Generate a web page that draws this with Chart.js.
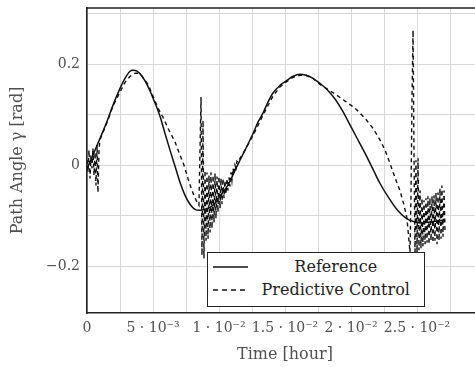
<!DOCTYPE html>
<html lang="en">
<head>
  <meta charset="UTF-8" />
  <title>Path angle</title>
  <script src="https://cdn.jsdelivr.net/npm/chart.js"></script>
  <style>
    body {
      margin: 0;
      width: 475px;
      height: 367px;
      overflow: hidden;
      background: #fff;
    }
    #wrap {
      position: relative;
      width: 483px;
      height: 367px;
    }
    #legend {
      position: absolute;
      left: 207px;
      top: 252px;
      width: 218px;
      height: 55px;
      box-sizing: border-box;
      border: 1.5px solid #222;
      background: #fff;
      padding-top: 2px;
      font-family: 'DejaVu Serif', serif;
      font-size: 16px;
      color: #222;
    }
    .row {
      display: flex;
      align-items: center;
      height: 23px;
    }
    .row svg {
      margin-left: 4.5px;
      flex: none;
    }
    .row span {
      flex: 1;
      text-align: center;
    }
  </style>
</head>
<body>
  <div id="wrap">
    <canvas id="pathChart" width="483" height="367"></canvas>
    <div id="legend">
      <div class="row">
        <svg width="35" height="4"><line x1="0" y1="2" x2="35" y2="2" stroke="#111" stroke-width="1.6" /></svg>
        <span>Reference</span>
      </div>
      <div class="row">
        <svg width="35" height="4"><line x1="0" y1="2" x2="35" y2="2" stroke="#111" stroke-width="1.6" stroke-dasharray="5 4" /></svg>
        <span>Predictive Control</span>
      </div>
    </div>
  </div>

  <script>
    // reference trajectory (time in hours, path angle in rad)
    const refTime = [0, 0.00045, 0.00098, 0.00152, 0.00197, 0.0025, 0.00288, 0.00326, 0.00348, 0.00379,
      0.00417, 0.00462, 0.005, 0.00553, 0.00591, 0.00629, 0.00667, 0.00705, 0.00742, 0.0078,
      0.00818, 0.00856, 0.00894, 0.00932, 0.0097, 0.01008, 0.01045, 0.01083, 0.01121, 0.01159,
      0.01197, 0.01258, 0.01295, 0.01333, 0.01371, 0.01409, 0.01462, 0.01515, 0.01561, 0.01614,
      0.01659, 0.01712, 0.01765, 0.01818, 0.01879, 0.01939, 0.01992, 0.02045, 0.02106, 0.02167,
      0.0222, 0.02295, 0.02356, 0.02424, 0.02485, 0.02538, 0.02598, 0.02652, 0.02712];
    const refGamma = [-0.006, 0.020, 0.053, 0.087, 0.119, 0.152, 0.172, 0.186, 0.188, 0.186,
      0.176, 0.156, 0.133, 0.097, 0.063, 0.030, -0.002, -0.034, -0.059, -0.077,
      -0.087, -0.089, -0.087, -0.083, -0.075, -0.061, -0.048, -0.032, -0.010, 0.010,
      0.030, 0.063, 0.085, 0.103, 0.125, 0.143, 0.158, 0.168, 0.176, 0.180,
      0.178, 0.172, 0.162, 0.150, 0.131, 0.106, 0.080, 0.054, 0.024, -0.008,
      -0.036, -0.068, -0.090, -0.106, -0.112, -0.114, -0.112, -0.110, -0.108];

    // predictive control response
    const mpcTime = [0, 0.00008, 0.00015, 0.00023, 0.0003, 0.00038, 0.00045, 0.00053, 0.00061, 0.00068,
      0.00076, 0.00083, 0.00091, 0.00098, 0.00152, 0.00197, 0.0025, 0.00288, 0.00326, 0.00364,
      0.00386, 0.00417, 0.00462, 0.005, 0.00538, 0.00576, 0.00614, 0.00667, 0.00705, 0.00735,
      0.00765, 0.00795, 0.00826, 0.00848, 0.00856, 0.00864, 0.00871, 0.00879, 0.00886, 0.00894,
      0.00902, 0.00909, 0.00917, 0.00924, 0.00932, 0.00939, 0.00947, 0.00955, 0.00962, 0.0097,
      0.00977, 0.00985, 0.00992, 0.01, 0.01008, 0.01015, 0.01023, 0.0103, 0.01038, 0.01045,
      0.01053, 0.01061, 0.01068, 0.01076, 0.01083, 0.01091, 0.01098, 0.01106, 0.01114, 0.01121,
      0.01129, 0.01136, 0.01144, 0.01159, 0.01197, 0.01258, 0.01333, 0.01409, 0.01462, 0.01515,
      0.01561, 0.01614, 0.01659, 0.01712, 0.01765, 0.01818, 0.01879, 0.01955, 0.0203, 0.02106,
      0.02167, 0.0222, 0.02258, 0.02295, 0.02333, 0.02371, 0.02402, 0.02424, 0.02439, 0.02447,
      0.02455, 0.02462, 0.0247, 0.02477, 0.02485, 0.02492, 0.025, 0.02508, 0.02515, 0.02523,
      0.0253, 0.02538, 0.02545, 0.02553, 0.02561, 0.02568, 0.02576, 0.02583, 0.02591, 0.02598,
      0.02606, 0.02614, 0.02621, 0.02629, 0.02636, 0.02644, 0.02652, 0.02659, 0.02667, 0.02674,
      0.02682, 0.02689, 0.02697, 0.02705, 0.02712];
    const mpcGamma = [0.010, -0.014, 0.030, -0.026, 0.020, -0.006, 0.034, -0.020, 0.026, -0.040,
      0.040, -0.054, 0.030, 0.050, 0.085, 0.117, 0.145, 0.164, 0.176, 0.182,
      0.182, 0.176, 0.160, 0.137, 0.113, 0.095, 0.073, 0.046, 0.020, 0.000,
      -0.026, -0.050, -0.069, -0.079, 0.030, 0.135, -0.178, 0.089, -0.184, -0.010,
      -0.149, -0.014, -0.145, -0.020, -0.133, -0.014, -0.125, -0.020, -0.113, -0.016,
      -0.105, -0.022, -0.093, -0.022, -0.085, -0.026, -0.077, -0.026, -0.065, -0.030,
      -0.057, -0.026, -0.050, -0.024, -0.042, -0.014, -0.030, -0.006, -0.018, 0.000,
      -0.006, 0.008, 0.006, 0.014, 0.030, 0.059, 0.099, 0.137, 0.155, 0.166,
      0.174, 0.178, 0.178, 0.172, 0.160, 0.151, 0.141, 0.127, 0.113, 0.093,
      0.073, 0.050, 0.030, 0.004, -0.024, -0.050, -0.079, -0.105, -0.149, -0.172,
      -0.050, 0.129, 0.267, 0.030, -0.178, 0.010, -0.172, 0.014, -0.168, -0.050,
      -0.164, -0.065, -0.160, -0.069, -0.156, -0.065, -0.153, -0.061, -0.156, -0.065,
      -0.149, -0.061, -0.153, -0.059, -0.149, -0.055, -0.156, -0.054, -0.149, -0.046,
      -0.145, -0.040, -0.141, -0.050, -0.129];

    // axes
    const xGridValues = [0, 0.0025, 0.005, 0.0075, 0.01, 0.0125, 0.015, 0.0175, 0.02, 0.0225, 0.025, 0.0275, 0.03];
    const xTickValues = [0, 0.005, 0.01, 0.015, 0.02, 0.025];
    const xTickLabels = ['0', '5 · 10⁻³', '1 · 10⁻²', '1.5 · 10⁻²', '2 · 10⁻²', '2.5 · 10⁻²'];
    const yGridValues = [-0.2, -0.1, 0, 0.1, 0.2, 0.3];
    const yTickValues = [-0.2, 0, 0.2];
    const yTickLabels = ['−0.2', '0', '0.2'];

    function labelFor(values, labels, v) {
      const i = values.findIndex(t => Math.abs(t - v) < 1e-9);
      return i >= 0 ? labels[i] : '';
    }

    const topBorder = {
      id: 'topBorder',
      afterDraw(chart) {
        const { ctx, chartArea } = chart;
        ctx.save();
        ctx.strokeStyle = '#222';
        ctx.lineWidth = 1.6;
        ctx.beginPath();
        ctx.moveTo(chartArea.left - 0.8, chartArea.top);
        ctx.lineTo(chartArea.right, chartArea.top);
        ctx.stroke();
        ctx.restore();
      }
    };

    Chart.defaults.font.family = "'DejaVu Serif', serif";

    new Chart(document.getElementById('pathChart'), {
      type: 'line',
      data: {
        datasets: [{
          label: 'Reference',
          data: refTime.map((t, i) => ({ x: t, y: refGamma[i] })),
          borderColor: '#111',
          borderWidth: 1.5,
          pointRadius: 0,
          cubicInterpolationMode: 'monotone',
          fill: false
        }, {
          label: 'Predictive Control',
          data: mpcTime.map((t, i) => ({ x: t, y: mpcGamma[i] })),
          borderColor: '#111',
          borderWidth: 1.4,
          borderDash: [4, 3.5],
          pointRadius: 0,
          tension: 0,
          fill: false
        }]
      },
      options: {
        responsive: false,
        animation: false,
        layout: { padding: { top: 8, right: 0, left: 0, bottom: 0 } },
        plugins: {
          legend: { display: false },
          tooltip: { enabled: false }
        },
        scales: {
          x: {
            type: 'linear',
            min: 0,
            max: 0.03,
            afterBuildTicks: s => { s.ticks = xGridValues.map(v => ({ value: v })); },
            afterFit: s => { s.height = 54; s.paddingRight = 0; },
            ticks: {
              autoSkip: false,
              maxRotation: 0,
              padding: 7,
              color: '#505050',
              font: { size: 14 },
              callback: v => labelFor(xTickValues, xTickLabels, v)
            },
            grid: { color: '#d8d8d8', lineWidth: 1, drawTicks: false },
            border: { color: '#222', width: 1.6 },
            title: {
              display: true,
              text: 'Time [hour]',
              color: '#505050',
              font: { size: 16 },
              padding: { top: 0, bottom: 3 }
            }
          },
          y: {
            type: 'linear',
            min: -0.292,
            max: 0.311,
            afterBuildTicks: s => { s.ticks = yGridValues.map(v => ({ value: v })); },
            afterFit: s => { s.width = 87; s.paddingTop = 0; s.paddingBottom = 0; },
            ticks: {
              autoSkip: false,
              padding: 7,
              color: '#505050',
              font: { size: 14 },
              callback: v => labelFor(yTickValues, yTickLabels, v)
            },
            grid: { color: '#d8d8d8', lineWidth: 1, drawTicks: false },
            border: { color: '#222', width: 1.6 },
            title: {
              display: true,
              text: 'Path Angle γ [rad]',
              color: '#505050',
              font: { size: 16 },
              padding: { top: 8, bottom: 0 }
            }
          }
        }
      },
      plugins: [topBorder]
    });
  </script>
</body>
</html>
